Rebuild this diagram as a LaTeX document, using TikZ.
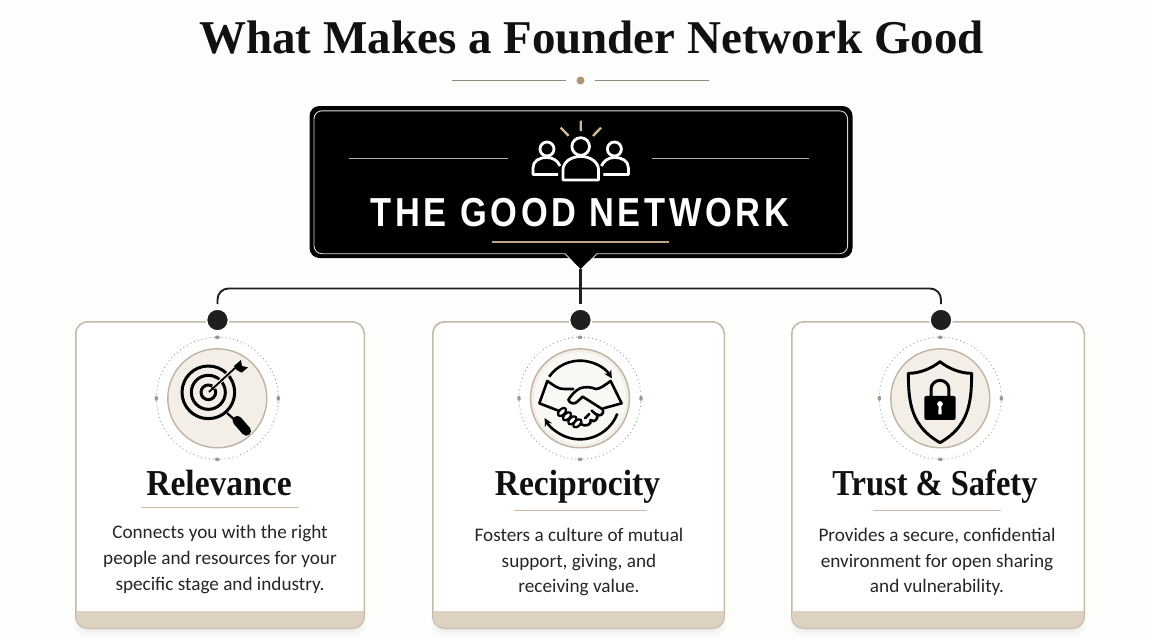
\documentclass[tikz,border=0pt]{standalone}
\usepackage{fontspec}
\usetikzlibrary{arrows.meta,calc}
\setmainfont{Liberation Serif}
\newfontfamily\headf{Liberation Serif}[FakeStretch=0.92]
\newfontfamily\headtightf{Liberation Serif}[FakeStretch=0.89]
\newfontfamily\bodyf{Carlito}
\newfontfamily\banf{Liberation Sans}[FakeStretch=0.85,LetterSpace=9]
\definecolor{pagebg}{HTML}{FDFDFB}
\definecolor{ink}{HTML}{111111}
\definecolor{cardline}{HTML}{C6BBAB}
\definecolor{band}{HTML}{DDD1C2}
\definecolor{gold}{HTML}{BFA583}
\definecolor{ray}{HTML}{CDB89A}
\definecolor{cream}{HTML}{F3EFE8}
\definecolor{ringc}{HTML}{BFB4A2}
\definecolor{dotc}{HTML}{A0968A}
\definecolor{rule}{HTML}{8F8A80}
\tikzset{
 titletext/.style={font=\fontsize{47}{50}\bfseries\selectfont,text=ink,inner sep=0pt,anchor=base},
 headtext/.style={font=\headf\fontsize{36.5}{40}\bfseries\selectfont,text=ink,inner sep=0pt,anchor=base},
 bodytext/.style={font=\bodyf\fontsize{19.2}{25.6}\selectfont,text=black!85,inner sep=0pt,align=center},
 cardbox/.style={draw=cardline,line width=1pt,rounded corners=12pt,fill=white,minimum width=#1,minimum height=306pt,inner sep=0pt},
 jdot/.style={circle,fill=black!88,draw=white,line width=1.6pt,minimum size=22pt,inner sep=0pt},
 conn/.style={draw=black!88,line width=1.9pt},
 ic/.style={draw=black,line width=2.6pt,line cap=round,line join=round},
 goldrule/.style={draw=gold!75!white,line width=1.3pt}
}
\newcommand{\ringdeco}[1]{%
 \begin{scope}[shift={(#1,398.3)}]
  \draw[dotc,line width=1.25pt,line cap=round,dash pattern=on 0pt off 4pt] (0,0) circle (61);
  \foreach \px/\py in {0/-61,0/61}{\fill[dotc] (\px,\py) ellipse (2.5 and 1.8);}
  \foreach \px/\py in {-61/0,61/0}{\fill[dotc] (\px,\py) ellipse (1.8 and 2.5);}
  \fill[cream] (0,0) circle (49.5);
  \draw[ringc,line width=1.4pt] (0,0) circle (49.5);
 \end{scope}}
\begin{document}
\begin{tikzpicture}[x=1pt,y=-1pt]
\fill[pagebg] (0,0) rectangle (1152,640);
\useasboundingbox (0,0) rectangle (1152,640);

% title
\node[titletext] (title) at (591.5,53.3) {What Makes a Founder Network Good};
\coordinate (tl1) at (452,80.5);\coordinate (tl2) at (566,80.5);
\coordinate (tr1) at (595,80.5);\coordinate (tr2) at (709,80.5);
\draw[rule,line width=1.2pt] (tl1)--(tl2) (tr1)--(tr2);
\node[circle,fill=gold!90!black,minimum size=8pt,inner sep=0pt] (tdot) at (580.5,80.5) {};

% cards + shadow
\foreach \cx/\wd in {220/288,578.5/291,938/292}{
 \foreach \s in {1,2,...,6}{
  \fill[black,opacity=.012,rounded corners=12pt]
   (\cx-\wd/2+4-\s,610) rectangle (\cx+\wd/2-4+\s,628+\s*1.4);
 }}
\node[cardbox=288pt] (c1) at (220,475) {};
\node[cardbox=291pt] (c2) at (578.5,475) {};
\node[cardbox=292pt] (c3) at (938,475) {};
\foreach \n in {c1,c2,c3}{
 \begin{scope}
  \clip[rounded corners=12pt] (\n.north west) rectangle (\n.south east);
  \fill[band] (\n.west |- 0,611) -- (\n.east |- 0,611) -- (\n.south east) -- (\n.south west) -- cycle;
 \end{scope}
 \draw[cardline,line width=1pt,rounded corners=12pt] (\n.north west) rectangle (\n.south east);
}

% banner
\node[fill=black,rounded corners=10pt,minimum width=543pt,minimum height=152pt,inner sep=0pt] (banner) at (581,182) {};
\coordinate (tipL) at (565,253);\coordinate (tipR) at (597,253);\coordinate (tip) at (580.5,269);
\fill[black] (tipL)--(tipR)--(tip)--cycle;
\draw[white!85!black,line width=.9pt,rounded corners=8pt]
 (565,253.7) -- (314,253.7) -- (314,110.8) -- (847.6,110.8) -- (847.6,253.7) -- (597,253.7);
\draw[white!85!black,line width=.9pt] (565,253.7) -- (570,258.8) (597,253.7) -- (592,258.8);
\coordinate (bl1) at (349,158.7);\coordinate (bl2) at (507.5,158.7);
\coordinate (br1) at (652,158.7);\coordinate (br2) at (808.5,158.7);
\draw[white!68!black,line width=1pt] (bl1)--(bl2) (br1)--(br2);
\draw[ray,line width=2.4pt] (580.7,120.7)--(580.7,131) (560.7,127.7)--(568.6,135.7) (601,127.7)--(593,136);
\begin{scope}[draw=white,line width=2.8pt,line join=round]
 \draw (580.7,146.5) circle (8.8);
 \draw (547,149) circle (7);
 \draw (614.4,149) circle (7);
 \draw (563,180) -- (563,170) .. controls (563,162) and (571,156.5) .. (580.7,156.5) .. controls (590.5,156.5) and (598.5,162) .. (598.5,170) -- (598.5,180) -- cycle;
 \draw (558,174.5) -- (533,174.5) -- (533,168) .. controls (533,161) and (539,157.5) .. (547,157.5) .. controls (553,157.5) and (558,161) .. (560,166);
 \draw (603.4,174.5) -- (628.4,174.5) -- (628.4,168) .. controls (628.4,161) and (622.4,157.5) .. (614.4,157.5) .. controls (608.4,157.5) and (603.4,161) .. (601.4,166);
\end{scope}
\node[font=\banf\fontsize{40.5}{44}\bfseries\selectfont,text=white,inner sep=0pt,anchor=base] (bantext) at (580,226) {THE GOOD NETWORK};
\coordinate (bu1) at (492,242);\coordinate (bu2) at (669,242);
\draw[gold,line width=2pt] (bu1)--(bu2);

% connectors
\node[jdot] (d1) at (217.5,320) {};
\node[jdot] (d2) at (580.5,320) {};
\node[jdot] (d3) at (941,320) {};
\coordinate (busc) at (580.5,288.5);
\draw[conn,rounded corners=11pt,shorten <=4pt,shorten >=4pt] (d1.north) |- (busc) -| (d3.north);
\draw[conn,line width=2.2pt,shorten >=4pt] (tip) -- (d2.north);

% rings
\ringdeco{217.3}
\ringdeco{580}
\ringdeco{940.3}
\fill[white!55!cream] (580,398.3) circle (46);

% target icon
\begin{scope}[shift={(130,320)},x=.3333pt,y=-.3333pt]
 \draw[ic,line width=3pt] (235,217) circle (79);
 \draw[ic,line width=3pt] (235,217) circle (51);
 \draw[ic,line width=3pt] (235,217) circle (22);
 \draw[cream,line width=4pt] (250,203) -- (310,148);
 \draw[ic,line width=1.8pt] (238,215) -- (325,135);
 \fill[black,line join=round] (312,138) -- (333,120) -- (336,138) -- (354,142) -- (335,158) -- (320,150) -- cycle;
 \draw[ic,line width=2.2pt] (292,280) -- (318,303);
 \draw[ic,line width=9.5pt] (322,302) -- (349,333);
\end{scope}

% handshake icon
\begin{scope}[shift={(490,320)},x=.3333pt,y=-.3333pt]
 \draw[ic,line cap=butt,-{Stealth[length=8pt,width=8pt]}] (270,235) ++(215:113) arc (215:328:113);
 \draw[ic,line cap=butt,-{Stealth[length=8pt,width=8pt]}] (270,238) ++(21:120) arc (21:152:120);
 \draw[ic] (250,207) -- (222,207) .. controls (205,208) and (190,195) .. (172,183) -- (148,250) -- (205,272);
 \draw[ic] (362,183) -- (395,250) -- (340,265);
 \draw[ic] (362,183) .. controls (345,195) and (330,207) .. (318,207) .. controls (300,200) and (285,200) .. (270,205) .. controls (255,212) and (240,230) .. (235,240) .. controls (240,252) and (255,253) .. (262,245) -- (278,230) -- (338,268) .. controls (345,280) and (330,292) .. (320,283);
 \draw[ic] (320,283) .. controls (328,296) and (312,310) .. (302,300);
 \draw[ic] (302,300) .. controls (306,314) and (285,322) .. (272,312);
 \draw[ic] (298,282) -- (285,295) (318,283) -- (305,272);
 \foreach \ex/\ey in {216/276,231/289,247/301,262/310}{
  \draw[ic,fill=white,line width=2.2pt] (\ex,\ey) circle [x radius=15,y radius=9,rotate=45];
 }
\end{scope}

% shield icon
\begin{scope}[shift={(850,320)},x=.3333pt,y=-.3333pt]
 \draw[ic,line width=2.9pt] (270,125) .. controls (245,145) and (210,160) .. (175,160) .. controls (175,250) and (185,320) .. (270,368) .. controls (355,320) and (365,250) .. (365,160) .. controls (330,160) and (295,145) .. (270,125) -- cycle;
 \draw[ic,line width=3pt] (243,232) -- (243,208) arc (180:360:27) -- (297,232);
 \fill[black,rounded corners=2pt] (223,228) rectangle (317,300);
 \fill[white] (270,252) circle (8.5);
 \fill[white] (266,254) -- (274,254) -- (275,283) -- (265,283) -- cycle;
\end{scope}

% card headings
\node[headtext] (h1) at (219,495.7) {Relevance};
\node[headtext] (h2) at (577.5,495.7) {Reciprocity};
\node[headtext,font=\headtightf\fontsize{36.5}{40}\bfseries\selectfont] (h3) at (935,495.7) {Trust \& Safety};
\coordinate (u1a) at (141,507.8);\coordinate (u1b) at (299.3,507.8);
\coordinate (u2a) at (514,510.3);\coordinate (u2b) at (647,510.3);
\coordinate (u3a) at (872.7,510.7);\coordinate (u3b) at (1001,510.7);
\draw[goldrule] (u1a)--(u1b) (u2a)--(u2b) (u3a)--(u3b);

% body
\node[bodytext] (b1) at (220,559.5) {Connects you with the right\\people and resources for your\\specific stage and industry.};
\node[bodytext] (b2) at (579,562) {Fosters a culture of mutual\\support, giving, and\\receiving value.};
\node[bodytext] (b3) at (937,562) {Provides a secure, confidential\\environment for open sharing\\and vulnerability.};
\end{tikzpicture}
\end{document}
